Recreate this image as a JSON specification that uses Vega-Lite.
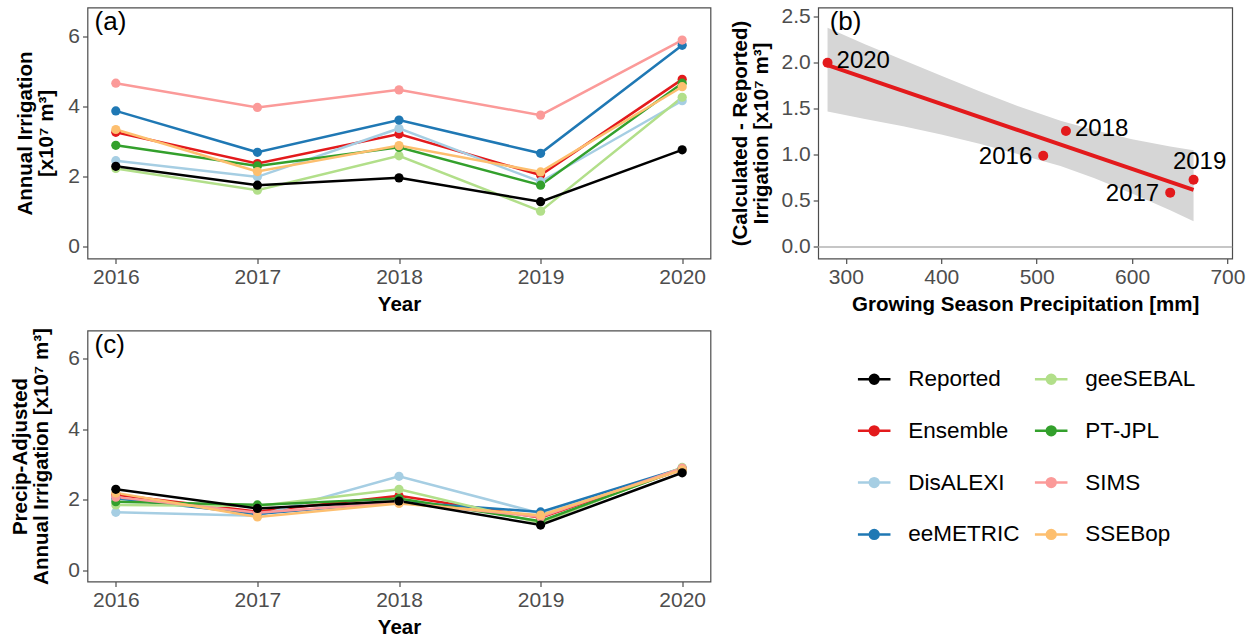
{
  "$schema": "https://vega.github.io/schema/vega-lite/v6.json",
  "background": "white",
  "padding": {"left": 9.5, "top": 4.5, "right": 5, "bottom": 2},
  "config": {
    "font": "Liberation Sans",
    "view": {"stroke": "#4d4d4d", "strokeWidth": 1.2},
    "axis": {
      "grid": false,
      "domain": false,
      "labelFont": "Liberation Sans",
      "labelFontSize": 21,
      "labelColor": "#4d4d4d",
      "labelPadding": 3,
      "tickColor": "#4d4d4d",
      "tickSize": 5,
      "tickWidth": 1.2,
      "titleFont": "Liberation Sans",
      "titleFontSize": 20.5,
      "titleFontWeight": "bold",
      "titleColor": "black",
      "titlePadding": 5,
      "titleLineHeight": 21
    },
    "axisX": {"titlePadding": 7},
    "legend": {"padding": 0}
  },
  "datasets": {
    "annual": [
      {"method": "Ensemble", "year": 2016, "raw": 3.27, "adjusted": 2.15},
      {"method": "Ensemble", "year": 2017, "raw": 2.38, "adjusted": 1.67},
      {"method": "Ensemble", "year": 2018, "raw": 3.22, "adjusted": 2.12},
      {"method": "Ensemble", "year": 2019, "raw": 2.05, "adjusted": 1.50},
      {"method": "Ensemble", "year": 2020, "raw": 4.78, "adjusted": 2.87},
      {"method": "DisALEXI", "year": 2016, "raw": 2.46, "adjusted": 1.65},
      {"method": "DisALEXI", "year": 2017, "raw": 2.00, "adjusted": 1.55},
      {"method": "DisALEXI", "year": 2018, "raw": 3.38, "adjusted": 2.67},
      {"method": "DisALEXI", "year": 2019, "raw": 1.86, "adjusted": 1.62},
      {"method": "DisALEXI", "year": 2020, "raw": 4.17, "adjusted": 2.88},
      {"method": "eeMETRIC", "year": 2016, "raw": 3.88, "adjusted": 2.05},
      {"method": "eeMETRIC", "year": 2017, "raw": 2.70, "adjusted": 1.60},
      {"method": "eeMETRIC", "year": 2018, "raw": 3.62, "adjusted": 1.95},
      {"method": "eeMETRIC", "year": 2019, "raw": 2.67, "adjusted": 1.66},
      {"method": "eeMETRIC", "year": 2020, "raw": 5.75, "adjusted": 2.90},
      {"method": "geeSEBAL", "year": 2016, "raw": 2.24, "adjusted": 1.86},
      {"method": "geeSEBAL", "year": 2017, "raw": 1.62, "adjusted": 1.83},
      {"method": "geeSEBAL", "year": 2018, "raw": 2.60, "adjusted": 2.30},
      {"method": "geeSEBAL", "year": 2019, "raw": 1.02, "adjusted": 1.35},
      {"method": "geeSEBAL", "year": 2020, "raw": 4.27, "adjusted": 2.92},
      {"method": "PT-JPL", "year": 2016, "raw": 2.90, "adjusted": 1.95},
      {"method": "PT-JPL", "year": 2017, "raw": 2.31, "adjusted": 1.86},
      {"method": "PT-JPL", "year": 2018, "raw": 2.84, "adjusted": 2.04},
      {"method": "PT-JPL", "year": 2019, "raw": 1.76, "adjusted": 1.40},
      {"method": "PT-JPL", "year": 2020, "raw": 4.67, "adjusted": 2.88},
      {"method": "SIMS", "year": 2016, "raw": 4.67, "adjusted": 2.08},
      {"method": "SIMS", "year": 2017, "raw": 3.98, "adjusted": 1.64},
      {"method": "SIMS", "year": 2018, "raw": 4.48, "adjusted": 1.93},
      {"method": "SIMS", "year": 2019, "raw": 3.76, "adjusted": 1.52},
      {"method": "SIMS", "year": 2020, "raw": 5.90, "adjusted": 2.90},
      {"method": "SSEBop", "year": 2016, "raw": 3.35, "adjusted": 2.20},
      {"method": "SSEBop", "year": 2017, "raw": 2.15, "adjusted": 1.52},
      {"method": "SSEBop", "year": 2018, "raw": 2.89, "adjusted": 1.90},
      {"method": "SSEBop", "year": 2019, "raw": 2.14, "adjusted": 1.57},
      {"method": "SSEBop", "year": 2020, "raw": 4.57, "adjusted": 2.85},
      {"method": "Reported", "year": 2016, "raw": 2.30, "adjusted": 2.30},
      {"method": "Reported", "year": 2017, "raw": 1.76, "adjusted": 1.76},
      {"method": "Reported", "year": 2018, "raw": 1.97, "adjusted": 1.97},
      {"method": "Reported", "year": 2019, "raw": 1.29, "adjusted": 1.29},
      {"method": "Reported", "year": 2020, "raw": 2.77, "adjusted": 2.77}
    ],
    "diffs": [
      {"year": "2016", "precip": 506.9, "diff": 0.99},
      {"year": "2017", "precip": 640.0, "diff": 0.59},
      {"year": "2018", "precip": 530.7, "diff": 1.26},
      {"year": "2019", "precip": 664.5, "diff": 0.73},
      {"year": "2020", "precip": 280.8, "diff": 2.00}
    ],
    "band": [
      {"precip": 280.8, "lo": 1.47, "hi": 2.38},
      {"precip": 320, "lo": 1.39, "hi": 2.20},
      {"precip": 360, "lo": 1.31, "hi": 2.03},
      {"precip": 400, "lo": 1.22, "hi": 1.86},
      {"precip": 440, "lo": 1.12, "hi": 1.69},
      {"precip": 480, "lo": 1.01, "hi": 1.53},
      {"precip": 525, "lo": 0.88, "hi": 1.37},
      {"precip": 560, "lo": 0.75, "hi": 1.27},
      {"precip": 600, "lo": 0.58, "hi": 1.17},
      {"precip": 640, "lo": 0.40, "hi": 1.09},
      {"precip": 664.5, "lo": 0.28, "hi": 1.05}
    ]
  },
  "bounds": "flush",
  "columns": 2,
  "spacing": {"row": 72, "column": 107.7},
  "resolve": {"scale": {"color": "shared"}},
  "concat": [
    {
      "width": 623,
      "height": 251,
      "layer": [
        {
          "data": {"name": "annual"},
          "encoding": {
            "x": {
              "field": "year",
              "type": "quantitative",
              "scale": {"domain": [2015.8, 2020.2], "nice": false, "zero": false},
              "axis": {"values": [2016, 2017, 2018, 2019, 2020], "format": "d"},
              "title": "Year"
            },
            "y": {
              "field": "raw",
              "type": "quantitative",
              "scale": {"domain": [-0.33, 6.83], "nice": false},
              "axis": {"values": [0, 2, 4, 6], "titlePadding": 11},
              "title": ["Annual Irrigation", "[x10⁷ m³]"]
            },
            "color": {
              "field": "method",
              "type": "nominal",
              "scale": {
                "domain": ["Reported", "Ensemble", "DisALEXI", "eeMETRIC", "geeSEBAL", "PT-JPL", "SIMS", "SSEBop"],
                "range": ["#000000", "#e31a1c", "#a6cee3", "#1f78b4", "#b2df8a", "#33a02c", "#fb9a99", "#fdbf6f"]
              },
              "legend": {
                "title": null,
                "orient": "none",
                "legendX": 768.7,
                "legendY": 353.5,
                "columns": 2,
                "gridAlign": "each",
                "columnPadding": 9,
                "rowPadding": 21.8,
                "labelFontSize": 22.5,
                "labelFont": "Liberation Sans",
                "labelColor": "black",
                "labelOffset": 16,
                "symbolType": "M-1,0L1,0M-0.27,0A0.27,0.27,0,1,1,0.27,0A0.27,0.27,0,1,1,-0.27,0Z",
                "symbolSize": 1060,
                "symbolStrokeWidth": 2.5,
                "symbolOpacity": 1,
                "encode": {
                  "symbols": {
                    "update": {
                      "fill": {"scale": "color", "field": "value"},
                      "stroke": {"scale": "color", "field": "value"}
                    }
                  }
                }
              }
            }
          },
          "layer": [
            {"mark": {"type": "line", "strokeWidth": 2.5}},
            {"mark": {"type": "point", "filled": true, "size": 85, "opacity": 1}}
          ]
        },
        {
          "data": {"values": [{"label": "(a)"}]},
          "mark": {"type": "text", "fontSize": 26, "align": "left", "baseline": "top", "color": "black", "dy": 1},
          "encoding": {
            "text": {"field": "label"},
            "x": {"datum": 2015.85},
            "y": {"datum": 6.83}
          }
        }
      ]
    },
    {
      "width": 414,
      "height": 251,
      "layer": [
        {
          "encoding": {
            "x": {
              "field": "precip",
              "type": "quantitative",
              "scale": {"domain": [271, 705], "nice": false, "zero": false},
              "axis": {"values": [300, 400, 500, 600, 700]},
              "title": "Growing Season Precipitation [mm]"
            }
          },
          "layer": [
            {
              "data": {"name": "band"},
              "mark": {"type": "area", "color": "#d6d6d6", "opacity": 1},
              "encoding": {
                "y": {
                  "field": "lo",
                  "type": "quantitative",
                  "scale": {"domain": [-0.125, 2.6], "nice": false},
                  "axis": {"values": [0, 0.5, 1, 1.5, 2, 2.5], "format": ".1f", "titlePadding": 10},
                  "title": ["(Calculated - Reported)", "Irrigation [x10⁷ m³]"]
                },
                "y2": {"field": "hi"}
              }
            },
            {
              "data": {"name": "diffs"},
              "transform": [{"regression": "diff", "on": "precip"}],
              "mark": {"type": "line", "color": "#e31a1c", "strokeWidth": 4},
              "encoding": {
                "y": {"field": "diff", "type": "quantitative", "title": ["(Calculated - Reported)", "Irrigation [x10⁷ m³]"]}
              }
            },
            {
              "data": {"name": "diffs"},
              "mark": {"type": "point", "filled": true, "size": 100, "color": "#e31a1c", "opacity": 1},
              "encoding": {
                "y": {"field": "diff", "type": "quantitative", "title": ["(Calculated - Reported)", "Irrigation [x10⁷ m³]"]}
              }
            },
            {
              "data": {"name": "diffs"},
              "transform": [{"filter": "datum.year == '2020' || datum.year == '2018'"}],
              "mark": {"type": "text", "fontSize": 24, "align": "left", "baseline": "middle", "dx": 9, "dy": -2, "color": "black"},
              "encoding": {
                "y": {"field": "diff", "type": "quantitative", "title": ["(Calculated - Reported)", "Irrigation [x10⁷ m³]"]},
                "text": {"field": "year"}
              }
            },
            {
              "data": {"name": "diffs"},
              "transform": [{"filter": "datum.year == '2016' || datum.year == '2017'"}],
              "mark": {"type": "text", "fontSize": 24, "align": "right", "baseline": "middle", "dx": -11, "dy": 1, "color": "black"},
              "encoding": {
                "y": {"field": "diff", "type": "quantitative", "title": ["(Calculated - Reported)", "Irrigation [x10⁷ m³]"]},
                "text": {"field": "year"}
              }
            },
            {
              "data": {"name": "diffs"},
              "transform": [{"filter": "datum.year == '2019'"}],
              "mark": {"type": "text", "fontSize": 24, "align": "center", "baseline": "middle", "dx": 6, "dy": -18, "color": "black"},
              "encoding": {
                "y": {"field": "diff", "type": "quantitative", "title": ["(Calculated - Reported)", "Irrigation [x10⁷ m³]"]},
                "text": {"field": "year"}
              }
            }
          ]
        },
        {
          "data": {"values": [{"level": 0}]},
          "mark": {"type": "rule", "color": "#b3b3b3", "strokeWidth": 1.5},
          "encoding": {"y": {"field": "level", "type": "quantitative", "title": ["(Calculated - Reported)", "Irrigation [x10⁷ m³]"]}}
        },
        {
          "data": {"values": [{"label": "(b)"}]},
          "mark": {"type": "text", "fontSize": 26, "align": "left", "baseline": "top", "color": "black", "dy": 1},
          "encoding": {
            "text": {"field": "label"},
            "x": {"datum": 283},
            "y": {"datum": 2.6}
          }
        }
      ]
    },
    {
      "width": 623,
      "height": 251,
      "layer": [
        {
          "data": {"name": "annual"},
          "encoding": {
            "x": {
              "field": "year",
              "type": "quantitative",
              "scale": {"domain": [2015.8, 2020.2], "nice": false, "zero": false},
              "axis": {"values": [2016, 2017, 2018, 2019, 2020], "format": "d"},
              "title": "Year"
            },
            "y": {
              "field": "adjusted",
              "type": "quantitative",
              "scale": {"domain": [-0.31, 6.8], "nice": false},
              "axis": {"values": [0, 2, 4, 6], "titlePadding": 16},
              "title": ["Precip-Adjusted", "Annual Irrigation [x10⁷ m³]"]
            },
            "color": {"field": "method", "type": "nominal"}
          },
          "layer": [
            {"mark": {"type": "line", "strokeWidth": 2.5}},
            {"mark": {"type": "point", "filled": true, "size": 85, "opacity": 1}}
          ]
        },
        {
          "data": {"values": [{"label": "(c)"}]},
          "mark": {"type": "text", "fontSize": 26, "align": "left", "baseline": "top", "color": "black", "dy": 1},
          "encoding": {
            "text": {"field": "label"},
            "x": {"datum": 2015.85},
            "y": {"datum": 6.8}
          }
        }
      ]
    }
  ]
}
